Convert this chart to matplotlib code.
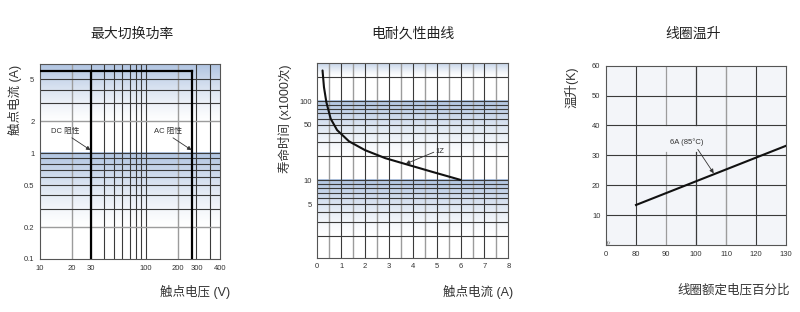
import matplotlib.pyplot as plt
import numpy as np
from matplotlib.colors import LinearSegmentedColormap

plt.rcParams['font.family'] = ['Liberation Sans', 'Noto Sans CJK SC', 'DejaVu Sans']

# ---- 最大切换功率 (max switching power) ----
sw_xlim = (10, 500)
sw_ylim = (0.1, 7)
sw_xticks = [10, 20, 30, 100, 200, 300, 500]
sw_xticklabels = ['10', '20', '30', '100', '200', '300', '400']
sw_yticks = [0.1, 0.2, 0.5, 1, 2, 5]
sw_yticklabels = ['0.1', '0.2', '0.5', '1', '2', '5']
sw_xgrid_dark = [30, 40, 50, 60, 70, 80, 90, 100, 300, 400]
sw_xgrid_grey = [20, 200]
sw_ygrid_dark = [0.3, 0.4, 0.5, 0.6, 0.7, 0.8, 0.9, 1, 3, 4, 5]
sw_ygrid_grey = [0.2, 2]
dc_volt = 30
ac_volt = 270
max_curr = 6

# ---- 电耐久性曲线 (electrical endurance) ----
life_xlim = (0, 8)
life_ylim = (1.05, 300)
life_xticks = [0, 1, 2, 3, 4, 5, 6, 7, 8]
life_yticks = [5, 10, 50, 100]
life_ygrid = [2, 3, 4, 5, 6, 7, 8, 9, 10, 20, 30, 40, 50, 60, 70, 80, 90, 100, 200]
life_current = [0.22, 0.28, 0.38, 0.56, 0.83, 1.33, 2.0, 2.85, 3.7, 4.8, 6.0]
life_cycles = [244, 150, 97, 60, 43, 31, 24, 19, 16, 12.8, 10.1]

# ---- 线圈温升 (coil temperature rise) ----
temp_xlim = (70, 130)
temp_ylim = (0, 60)
temp_xticks = [70, 80, 90, 100, 110, 120, 130]
temp_xticklabels = ['0', '80', '90', '100', '110', '120', '130']
temp_yticks = [10, 20, 30, 40, 50, 60]
temp_voltage = [80, 130]
temp_rise = [13.4, 33.2]

DARK = '#3a3a3a'
GREY = '#9c9c9c'
BLUE = '#b0c4e1'
TXT = '#333333'


def band(ax, v_top, v_bot, c_top=BLUE, c_bot='white'):
    """gradient strip between two data y values, drawn in axes coords"""
    inv = ax.transAxes.inverted()
    x0 = ax.get_xlim()[0]
    y1 = inv.transform(ax.transData.transform((x0, v_top)))[1]
    y0 = inv.transform(ax.transData.transform((x0, v_bot)))[1]
    grad = np.linspace(1, 0, 100).reshape(-1, 1) ** 1.4
    cmap = LinearSegmentedColormap.from_list('band', [c_bot, c_top])
    ax.imshow(grad, extent=[0, 1, y0, y1], transform=ax.transAxes,
              aspect='auto', cmap=cmap, vmin=0, vmax=1, zorder=0)


def style(ax):
    for s in ax.spines.values():
        s.set_color('#555555')
        s.set_linewidth(0.8)
    ax.tick_params(length=0, labelsize=5.5, colors=TXT, pad=4)
    ax.minorticks_off()


fig = plt.figure(figsize=(8, 3.12), dpi=100)

# chart 1
ax1 = fig.add_axes([0.05, 0.17, 0.225, 0.625])
ax1.set_xscale('log')
ax1.set_yscale('log')
ax1.set_xlim(sw_xlim)
ax1.set_ylim(sw_ylim)
band(ax1, sw_ylim[1], 1.9)
band(ax1, 1, 0.19)
for v in sw_xgrid_dark:
    ax1.axvline(v, color=DARK, lw=0.8, zorder=1)
for v in sw_xgrid_grey:
    ax1.axvline(v, color=GREY, lw=1.0, zorder=1)
for v in sw_ygrid_dark:
    ax1.axhline(v, color=DARK, lw=0.8, zorder=1)
for v in sw_ygrid_grey:
    ax1.axhline(v, color=GREY, lw=1.0, zorder=1)
ax1.plot([sw_xlim[0], ac_volt], [max_curr, max_curr], color='black', lw=1.6, zorder=3)
ax1.plot([dc_volt, dc_volt], [sw_ylim[0], max_curr], color='black', lw=1.6, zorder=3)
ax1.plot([ac_volt, ac_volt], [sw_ylim[0], max_curr], color='black', lw=1.6, zorder=3)
arrow = dict(arrowstyle='-|>', lw=0.6, color=TXT, mutation_scale=6, shrinkA=0, shrinkB=0)
ax1.text(17.2, 1.59, 'DC 阻性', fontsize=5.5, color=TXT, ha='center', va='center', zorder=4)
ax1.annotate('', xy=(dc_volt, 1.07), xytext=(20, 1.4), arrowprops=arrow, zorder=4)
ax1.text(163, 1.59, 'AC 阻性', fontsize=5.5, color=TXT, ha='center', va='center', zorder=4)
ax1.annotate('', xy=(ac_volt, 1.07), xytext=(180, 1.4), arrowprops=arrow, zorder=4)
ax1.set_xticks(sw_xticks)
ax1.set_xticklabels(sw_xticklabels)
ax1.set_yticks(sw_yticks)
ax1.set_yticklabels(sw_yticklabels)
ax1.set_xlim(sw_xlim)
ax1.set_ylim(sw_ylim)
style(ax1)

# chart 2
ax2 = fig.add_axes([0.3966, 0.174, 0.2388, 0.623])
ax2.set_yscale('log')
ax2.set_xlim(life_xlim)
ax2.set_ylim(life_ylim)
band(ax2, life_ylim[1], 200, c_top='#c4d3e8')
band(ax2, 100, 19)
band(ax2, 10, 1.9)
for v in np.arange(0.5, 8, 0.5):
    ax2.axvline(v, color=DARK if v % 1 == 0 else GREY, lw=0.8 if v % 1 == 0 else 1.0, zorder=1)
for v in life_ygrid:
    ax2.axhline(v, color=DARK, lw=0.8, zorder=1)
ax2.plot(life_current, life_cycles, color='#111111', lw=1.5, zorder=3,
         solid_capstyle='round', solid_joinstyle='round')
ax2.text(4.97, 23, '1Z', fontsize=5.5, color=TXT, ha='left', va='center', zorder=4)
ax2.annotate('', xy=(3.7, 16.1), xytext=(4.88, 22.6), arrowprops=arrow, zorder=4)
ax2.set_xticks(life_xticks)
ax2.set_yticks(life_yticks)
ax2.set_yticklabels([str(v) for v in life_yticks])
ax2.set_xlim(life_xlim)
ax2.set_ylim(life_ylim)
style(ax2)

# chart 3
ax3 = fig.add_axes([0.7575, 0.2147, 0.225, 0.5747])
ax3.set_facecolor('#f3f5f9')
ax3.set_xlim(temp_xlim)
ax3.set_ylim(temp_ylim)
for v in [80, 120]:
    ax3.axvline(v, color=DARK, lw=0.8, zorder=1)
ax3.axvline(110, color=GREY, lw=1.0, zorder=1)
for v, c in [(90, GREY), (100, DARK)]:
    ax3.axvline(v, ymin=40 / 60, ymax=1, color=c, lw=0.9, zorder=1)
    ax3.axvline(v, ymin=0, ymax=31 / 60, color=c, lw=0.9, zorder=1)
for v in [10, 20, 30, 40, 50]:
    ax3.axhline(v, color=DARK, lw=0.8, zorder=1)
ax3.plot(temp_voltage, temp_rise, color='#111111', lw=1.5, zorder=3)
ax3.text(96.8, 34.3, '6A (85°C)', fontsize=5.5, color=TXT, ha='center', va='center', zorder=4)
ax3.annotate('', xy=(105.9, 24), xytext=(100.6, 32), arrowprops=arrow, zorder=4)
ax3.text(71.2, 0.8, '≈', fontsize=6, color='#666666', rotation=70, ha='center', va='center')
ax3.set_xticks(temp_xticks)
ax3.set_xticklabels(temp_xticklabels)
ax3.set_yticks(temp_yticks)
style(ax3)

# titles and axis labels
fig.text(0.165, 0.893, '最大切换功率', fontsize=10, color='#222222', ha='center', va='center')
fig.text(0.516, 0.893, '电耐久性曲线', fontsize=10, color='#222222', ha='center', va='center')
fig.text(0.867, 0.893, '线圈温升', fontsize=10, color='#222222', ha='center', va='center')
fig.text(0.019, 0.68, '触点电流 (A)', fontsize=9, color=TXT, rotation=90, ha='center', va='center')
fig.text(0.356, 0.62, '寿命时间 (x1000次)', fontsize=9, color=TXT, rotation=90, ha='center', va='center')
fig.text(0.715, 0.72, '温升(K)', fontsize=9, color=TXT, rotation=90, ha='center', va='center')
fig.text(0.288, 0.064, '触点电压 (V)', fontsize=9, color=TXT, ha='right', va='center')
fig.text(0.642, 0.064, '触点电流 (A)', fontsize=9, color=TXT, ha='right', va='center')
fig.text(0.988, 0.07, '线圈额定电压百分比', fontsize=9, color=TXT, ha='right', va='center')

fig.savefig('out.png', dpi=100)
